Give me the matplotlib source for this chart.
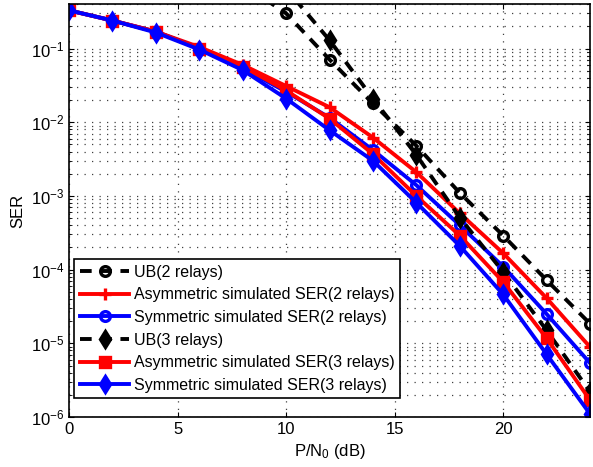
import numpy as np
import matplotlib
matplotlib.use("Agg")
import matplotlib.pyplot as plt
from matplotlib.ticker import LogLocator, NullFormatter

plt.rcParams['font.family'] = ['Liberation Sans', 'DejaVu Sans']
plt.rcParams['mathtext.fontset'] = 'custom'
plt.rcParams['mathtext.rm'] = 'Liberation Sans'
plt.rcParams['mathtext.it'] = 'Liberation Sans'

# SNR points (dB)
snr = [0, 2, 4, 6, 8, 10, 12, 14, 16, 18, 20, 22, 24]
snr_ub2 = [8, 10, 12, 14, 16, 18, 20, 22, 24]
snr_ub3 = [10, 12, 14, 16, 18, 20, 22, 24]

# values
ub2 = [0.75, 0.30, 0.071, 0.018, 0.0048, 0.0011, 0.00029, 7.2e-5, 1.85e-5]
asym2 = [0.33, 0.24, 0.17, 0.105, 0.060, 0.031, 0.016, 0.0062, 0.0021, 0.00058, 0.000167, 4.1e-5, 8.9e-6]
sym2 = [0.33, 0.24, 0.17, 0.100, 0.054, 0.026, 0.0115, 0.0042, 0.0014, 0.00040, 0.00011, 2.5e-5, 5.4e-6]
ub3 = [0.65, 0.13, 0.021, 0.0036, 0.00051, 9.3e-5, 1.5e-5, 2.2e-6]
asym3 = [0.33, 0.24, 0.17, 0.100, 0.057, 0.027, 0.0112, 0.0037, 0.0010, 0.00029, 6.8e-5, 1.17e-5, 1.7e-6]
sym3 = [0.33, 0.24, 0.165, 0.097, 0.051, 0.021, 0.0078, 0.0030, 0.00081, 0.00021, 4.6e-5, 7.1e-6, 1.1e-6]

fig = plt.figure(figsize=(5.93, 4.67), dpi=100)
ax = fig.add_axes([0.1164, 0.107, 0.8786, 0.884])

lw = 2.8
mew = 2.4
dash = (3, 2.2)
ax.semilogy(snr_ub2, ub2, 'k--', marker='o', mfc='none', mew=mew, ms=7, lw=lw,
            dashes=dash, label='UB(2 relays)')
ax.semilogy(snr, asym2, 'r-', marker='+', mew=mew, ms=8, lw=lw,
            label='Asymmetric simulated SER(2 relays)')
ax.semilogy(snr, sym2, 'b-', marker='o', mfc='none', mew=mew, ms=7, lw=lw,
            label='Symmetric simulated SER(2 relays)')
ax.semilogy(snr_ub3, ub3, 'k--', marker='d', mew=mew, ms=8, lw=lw,
            dashes=dash, label='UB(3 relays)')
ax.semilogy(snr, asym3, 'r-', marker='s', mew=mew, ms=7, lw=lw,
            label='Asymmetric simulated SER(3 relays)')
ax.semilogy(snr, sym3, 'b-', marker='d', mew=mew, ms=8, lw=lw,
            label='Symmetric simulated SER(3 relays)')

ax.set_xlim(0, 24)
ax.set_ylim(1e-6, 0.4)
ax.set_xticks([0, 5, 10, 15, 20])
ax.yaxis.set_major_locator(LogLocator(base=10, numticks=10))
ax.yaxis.set_minor_locator(LogLocator(base=10, subs=np.arange(2, 10), numticks=20))
ax.yaxis.set_minor_formatter(NullFormatter())

grid_style = dict(linestyle=(0, (1, 5)), color='0.25', linewidth=0.9)
ax.grid(True, which='major', **grid_style)
ax.grid(True, which='minor', axis='y', **grid_style)

ax.tick_params(which='both', direction='in', top=True, right=True, labelsize=12)
for s in ax.spines.values():
    s.set_linewidth(1.2)

ax.set_xlabel('P/N$_0$ (dB)', fontsize=12)
ax.set_ylabel('SER', fontsize=12)

leg = ax.legend(loc='lower left', bbox_to_anchor=(0.01, 0.045), fontsize=11.5,
                fancybox=False, framealpha=1, edgecolor='black',
                handlelength=3.1, handletextpad=0.3, borderpad=0.35,
                labelspacing=0.48, borderaxespad=0)
leg.get_frame().set_linewidth(1.2)

fig.savefig('out.png', dpi=100)
